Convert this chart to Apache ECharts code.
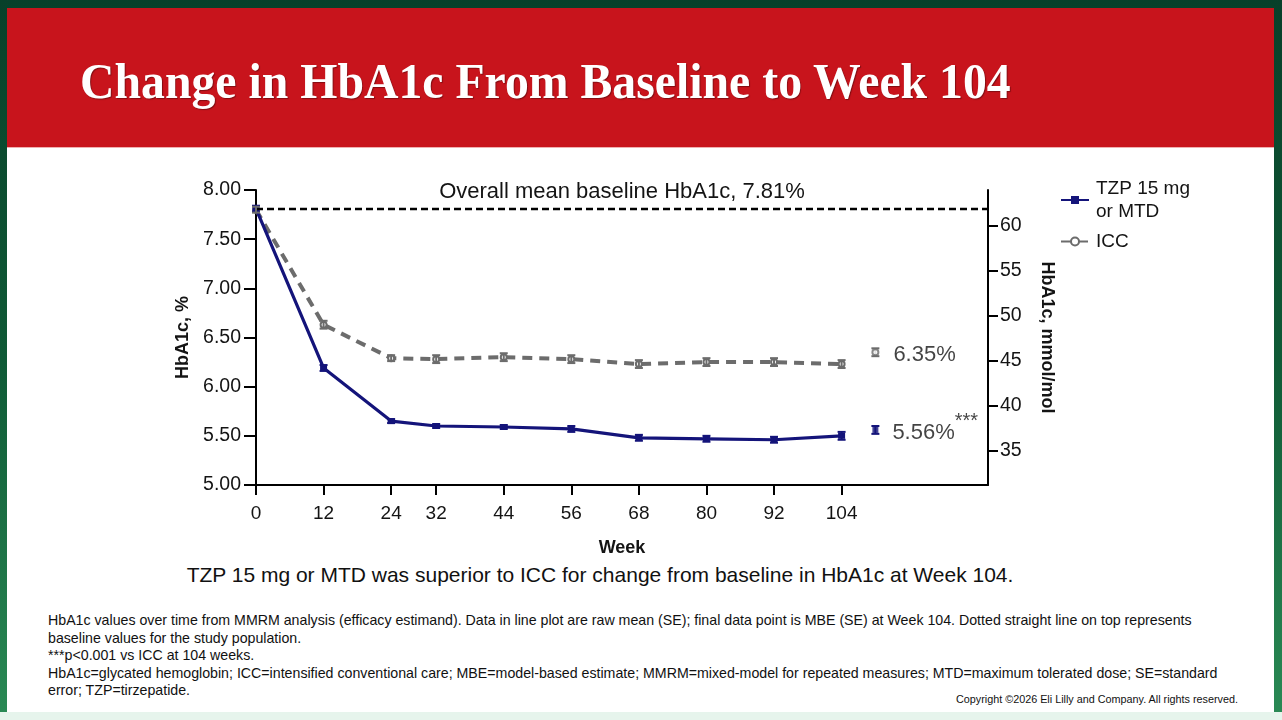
<!DOCTYPE html>
<html>
<head>
<meta charset="utf-8">
<script src="https://cdn.jsdelivr.net/npm/echarts@6/dist/echarts.min.js"></script>
<style>
  body { margin: 0; width: 1282px; height: 720px; overflow: hidden;
         background: linear-gradient(180deg, #08402a 0%, #0f5a36 50%, #2a8a55 100%);
         font-family: "Liberation Sans", Arial, sans-serif; position: relative; }
  .strip { position: absolute; left: 0; top: 712px; width: 1282px; height: 8px; background: #e6f4ec; }
  .card { position: absolute; left: 7px; top: 8px; width: 1267px; height: 704px; background: #fff; }
  .banner { position: absolute; left: 7px; top: 8px; width: 1267px; height: 139px; background: #c8141c;
            border-bottom: 1px solid #f0b0b0; }
  .title { position: absolute; left: 80px; top: 56px; font-family: "Liberation Serif", "Times New Roman", serif;
           font-weight: bold; font-size: 50px; line-height: 50px; color: #fff; white-space: nowrap;
           transform: scaleX(0.955); transform-origin: left center; text-shadow: 1px 1px 1px rgba(0,0,0,0.35); }
  .sub { position: absolute; left: 0; width: 1200px; top: 563px; text-align: center; font-size: 21px;
         line-height: 24px; color: #111; white-space: nowrap; }
  .notes { position: absolute; left: 48px; top: 612px; font-size: 14.2px; line-height: 17.6px; color: #111; white-space: nowrap; }
  .copy { position: absolute; right: 44px; top: 693px; font-size: 10.8px; color: #111; white-space: nowrap; }
  #chart { position: absolute; left: 0; top: 0; width: 1282px; height: 720px; }
</style>
</head>
<body>
<div class="strip"></div>
<div class="card"></div>
<div class="banner"></div>
<div class="title">Change in HbA1c From Baseline to Week 104</div>
<div class="sub">TZP 15 mg or MTD was superior to ICC for change from baseline in HbA1c at Week 104.</div>
<div class="notes">HbA1c values over time from MMRM analysis (efficacy estimand). Data in line plot are raw mean (SE); final data point is MBE (SE) at Week 104. Dotted straight line on top represents<br>baseline values for the study population.<br>***p&lt;0.001 vs ICC at 104 weeks.<br>HbA1c=glycated hemoglobin; ICC=intensified conventional care; MBE=model-based estimate; MMRM=mixed-model for repeated measures; MTD=maximum tolerated dose; SE=standard<br>error; TZP=tirzepatide.</div>
<div class="copy">Copyright ©2026 Eli Lilly and Company. All rights reserved.</div>
<div id="chart"></div>
<script>
// weeks on the x axis
var weeks = [0, 12, 24, 32, 44, 56, 68, 80, 92, 104];
// raw mean HbA1c (%) and SE
var tzpMean = [7.81, 6.19, 5.65, 5.60, 5.59, 5.57, 5.48, 5.47, 5.46, 5.50];
var tzpSE   = [0.03, 0.03, 0.02, 0.02, 0.02, 0.03, 0.03, 0.03, 0.03, 0.04];
var iccMean = [7.80, 6.63, 6.29, 6.28, 6.30, 6.28, 6.23, 6.25, 6.25, 6.23];
var iccSE   = [0.03, 0.04, 0.03, 0.04, 0.04, 0.04, 0.04, 0.04, 0.04, 0.04];
// model-based estimate at week 104 (plotted off to the right)
var mbeWeek = 110;
var tzpMBE = 5.56, tzpMBESE = 0.04;
var iccMBE = 6.35, iccMBESE = 0.04;
var baseline = 7.81;
// right axis ticks, mmol/mol
var mmolTicks = [35, 40, 45, 50, 55, 60];

function toMmol(p) { return 10.929 * (p - 2.15); }

var navy = '#14147a';
var grey = '#6c6c6c';
var ink = '#141414';

function points(m) { return weeks.map(function (w, i) { return [w, m[i]]; }); }
function bars(m, se) { return weeks.map(function (w, i) { return [w, m[i] - se[i], m[i] + se[i]]; }); }

function errBar(color, cap) {
	return function (params, api) {
		var lo = api.coord([api.value(0), api.value(1)]);
		var hi = api.coord([api.value(0), api.value(2)]);
		var st = { stroke: color, lineWidth: 2 };
		return {
			type: 'group',
			children: [
				{ type: 'line', shape: { x1: lo[0], y1: lo[1], x2: hi[0], y2: hi[1] }, style: st },
				{ type: 'line', shape: { x1: lo[0] - cap, y1: lo[1], x2: lo[0] + cap, y2: lo[1] }, style: st },
				{ type: 'line', shape: { x1: hi[0] - cap, y1: hi[1], x2: hi[0] + cap, y2: hi[1] }, style: st }
			]
		};
	};
}

var myChart = echarts.init(document.getElementById('chart'));
var option = {
	animation: false,
	textStyle: { fontFamily: 'Liberation Sans, Arial, sans-serif', color: ink },
	grid: { left: 256, right: 294, top: 190, bottom: 235 },
	legend: {
		orient: 'vertical',
		left: 1055,
		top: 172,
		itemWidth: 28,
		itemHeight: 10,
		itemGap: 7,
		data: ['TZP', 'ICC'],
		formatter: function (n) { return n === 'TZP' ? 'TZP 15 mg\nor MTD' : n; },
		textStyle: { fontSize: 19, lineHeight: 23, color: ink, padding: [0, 0, 0, 2] }
	},
	xAxis: {
		type: 'value',
		min: 0,
		max: 130,
		name: 'Week',
		nameLocation: 'middle',
		nameGap: 54,
		nameTextStyle: { fontWeight: 'bold', fontSize: 18, color: ink },
		axisLine: { lineStyle: { color: '#000', width: 2 } },
		axisTick: { customValues: weeks, length: 10, lineStyle: { color: '#000', width: 2 } },
		axisLabel: { customValues: weeks, fontSize: 19, color: ink, margin: 19 },
		splitLine: { show: false }
	},
	yAxis: [{
		type: 'value',
		min: 5,
		max: 8,
		interval: 0.5,
		name: 'HbA1c, %',
		nameLocation: 'middle',
		nameGap: 64,
		nameTextStyle: { fontWeight: 'bold', fontSize: 18, color: ink },
		axisLine: { show: true, lineStyle: { color: '#000', width: 2 } },
		axisTick: { show: true, length: 12, lineStyle: { color: '#000', width: 2 } },
		axisLabel: { fontSize: 19.5, color: ink, margin: 15, formatter: function (v) { return v.toFixed(2); } },
		splitLine: { show: false }
	}, {
		type: 'value',
		position: 'right',
		min: toMmol(5),
		max: toMmol(8),
		name: 'HbA1c, mmol/mol',
		nameLocation: 'middle',
		nameRotate: -90,
		nameGap: 50,
		nameTextStyle: { fontWeight: 'bold', fontSize: 18, color: ink },
		axisLine: { show: true, lineStyle: { color: '#000', width: 2 } },
		axisTick: { show: true, customValues: mmolTicks, length: 10, lineStyle: { color: '#000', width: 2 } },
		axisLabel: { customValues: mmolTicks, fontSize: 19.5, color: ink, margin: 12 },
		splitLine: { show: false }
	}],
	series: [{
		name: 'TZP',
		type: 'line',
		z: 4,
		data: points(tzpMean),
		color: navy,
		symbol: 'rect',
		symbolSize: [7, 6],
		lineStyle: { width: 3.2, color: navy },
		itemStyle: { color: navy },
		markLine: {
			silent: true,
			symbol: 'none',
			lineStyle: { color: '#000', width: 2.3, type: [7, 4] },
			label: {
				show: true,
				position: 'insideMiddleTop',
				distance: 6,
				fontSize: 22,
				color: ink,
				formatter: 'Overall mean baseline HbA1c, ' + baseline.toFixed(2) + '%'
			},
			data: [{ yAxis: baseline }]
		}
	}, {
		name: 'ICC',
		type: 'line',
		z: 3,
		data: points(iccMean),
		color: grey,
		symbol: 'emptyCircle',
		symbolSize: 6,
		lineStyle: { width: 4, color: grey, type: [10, 7] },
		itemStyle: { color: grey, borderWidth: 1.5 }
	}, {
		name: 'TZP SE',
		type: 'custom',
		z: 5,
		renderItem: errBar(navy, 4),
		encode: { x: 0, y: [1, 2] },
		data: bars(tzpMean, tzpSE).concat([[mbeWeek, tzpMBE - tzpMBESE, tzpMBE + tzpMBESE]])
	}, {
		name: 'ICC SE',
		type: 'custom',
		z: 5,
		renderItem: errBar(grey, 4),
		encode: { x: 0, y: [1, 2] },
		data: bars(iccMean, iccSE).concat([[mbeWeek, iccMBE - iccMBESE, iccMBE + iccMBESE]])
	}, {
		name: 'TZP MBE',
		type: 'scatter',
		z: 6,
		symbol: 'rect',
		symbolSize: [6, 6],
		itemStyle: { color: navy },
		data: [[mbeWeek, tzpMBE]],
		label: {
			show: true,
			position: 'right',
			distance: 14,
			formatter: function (p) { return '{v|' + p.value[1].toFixed(2) + '%}{s|***}'; },
			rich: {
				v: { fontSize: 22, color: ink, padding: [6, 0, 0, 0] },
				s: { fontSize: 20, color: ink, padding: [0, 0, 16, 0] }
			}
		}
	}, {
		name: 'ICC MBE',
		type: 'scatter',
		z: 6,
		symbol: 'emptyCircle',
		symbolSize: 6,
		itemStyle: { color: grey, borderWidth: 1.5 },
		data: [[mbeWeek, iccMBE]],
		label: {
			show: true,
			position: 'right',
			distance: 14,
			color: ink,
			formatter: function (p) { return '{v|' + p.value[1].toFixed(2) + '%}'; },
			rich: { v: { fontSize: 22, color: ink, padding: [6, 0, 0, 0] } }
		}
	}]
};
myChart.setOption(option);
</script>
</body>
</html>
